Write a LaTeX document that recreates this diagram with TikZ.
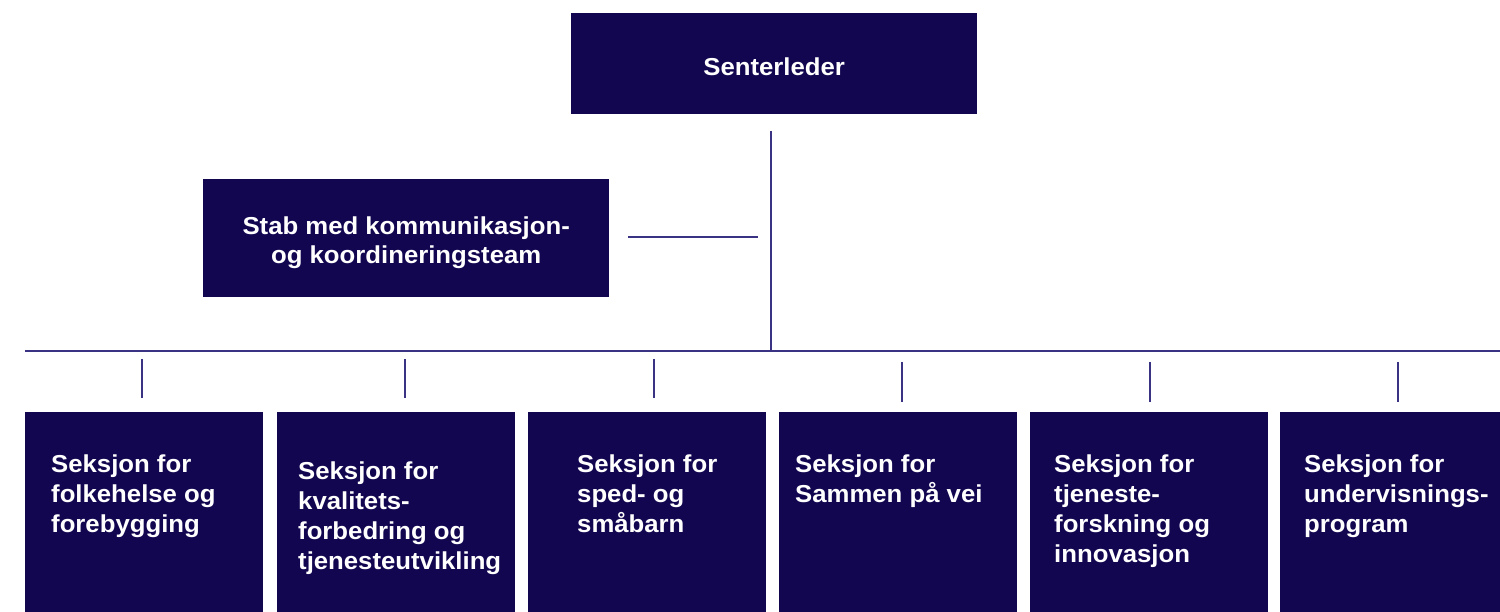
\documentclass[tikz,border=0pt]{standalone}
\usepackage{fontspec}
\setmainfont{Liberation Sans}[FakeStretch=1.05]
\definecolor{navy}{HTML}{120650}
\definecolor{linec}{HTML}{3A3283}
\begin{document}
\begin{tikzpicture}[x=1pt,y=-1pt,
  box/.style={fill=navy,draw=none,inner sep=0,anchor=north west},
  ctext/.style={text=white,font=\bfseries\fontsize{24.5}{28.5}\selectfont,
    align=center,inner sep=0},
  ln/.style={draw=linec,line width=1.3pt},
  lbl/.style={text=white,font=\bfseries\fontsize{24.5}{30}\selectfont,
    align=left,anchor=north west,inner sep=0}]
\useasboundingbox (0,0) rectangle (1500,612);
% top boxes
\node[box,minimum width=406pt,minimum height=101pt] (leder) at (571,13) {};
\node[ctext] (ledert) at ([yshift=-3pt]leder.center) {Senterleder};
\node[box,minimum width=406pt,minimum height=118pt] (stab) at (203,179) {};
\node[ctext] (stabt) at ([yshift=-4.5pt]stab.center) {Stab med kommunikasjon-\\og koordineringsteam};
% section boxes
\foreach \i/\x in {1/25,2/277,3/528,4/779,5/1030,6/1280}
  \node[box,minimum width=238pt,minimum height=215pt] (s\i) at (\x,412) {};
% section labels
\node[lbl] (t1) at ([xshift=26pt,yshift=-39pt]s1.north west) {\strut Seksjon for\\folkehelse og\\forebygging};
\node[lbl] (t2) at ([xshift=21pt,yshift=-46pt]s2.north west) {\strut Seksjon for\\kvalitets-\\forbedring og\\tjenesteutvikling};
\node[lbl] (t3) at ([xshift=49pt,yshift=-39pt]s3.north west) {\strut Seksjon for\\sped- og\\småbarn};
\node[lbl] (t4) at ([xshift=16pt,yshift=-39pt]s4.north west) {\strut Seksjon for\\Sammen på vei};
\node[lbl] (t5) at ([xshift=24pt,yshift=-39pt]s5.north west) {\strut Seksjon for\\tjeneste-\\forskning og\\innovasjon};
\node[lbl] (t6) at ([xshift=24pt,yshift=-39pt]s6.north west) {\strut Seksjon for\\undervisnings-\\program};
% connectors
\coordinate (vtop) at (771,131);
\coordinate (vbot) at (771,351);
\coordinate (hl) at (25,351);
\coordinate (hr) at (1500,351);
\coordinate (sl) at (628,237);
\coordinate (sr) at (758,237);
\draw[ln] (vtop) -- (vbot);
\draw[ln] (hl) -- (hr);
\draw[ln] (sl) -- (sr);
\foreach \x/\a/\b in {142/359/398,405/359/398,654/359/398,902/362/402,1150/362/402,1398/362/402}{
  \coordinate (ca\x) at (\x,\a);
  \coordinate (cb\x) at (\x,\b);
  \draw[ln] (ca\x) -- (cb\x);
}
\end{tikzpicture}
\end{document}
